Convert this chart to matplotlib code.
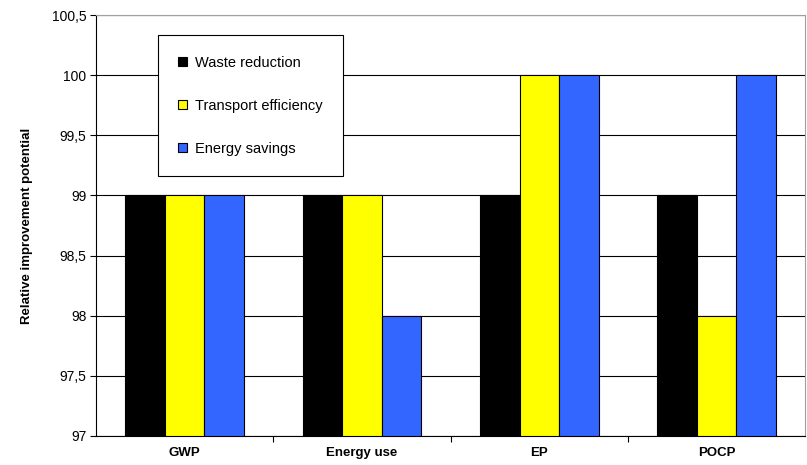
import numpy as np
from matplotlib import pyplot as plt

plt.rcParams['font.family'] = ['Liberation Sans', 'DejaVu Sans']

categories = ['GWP', 'Energy use', 'EP', 'POCP']
waste_reduction = [99, 99, 99, 99]
transport_efficiency = [99, 99, 100, 98]
energy_savings = [99, 98, 100, 100]
yticks = [97, 97.5, 98, 98.5, 99, 99.5, 100, 100.5]
ytick_labels = ['97', '97,5', '98', '98,5', '99', '99,5', '100', '100,5']

fig = plt.figure(figsize=(8.07, 4.65), dpi=100)
ax = fig.add_axes([0.119, 0.0624, 0.879, 0.9053])

x = np.arange(len(categories))
w = 0.223
ax.set_axisbelow(True)
ax.bar(x - w, waste_reduction, w, color='#000000', edgecolor='black', linewidth=0.8, label='Waste reduction')
ax.bar(x, transport_efficiency, w, color='#FFFF00', edgecolor='black', linewidth=0.8, label='Transport efficiency')
ax.bar(x + w, energy_savings, w, color='#3366FF', edgecolor='black', linewidth=0.8, label='Energy savings')

ax.set_ylim(97, 100.5)
ax.set_xlim(-0.5, 3.5)
ax.set_yticks(yticks)
ax.set_yticklabels(ytick_labels, fontsize=10)
ax.yaxis.grid(True, color='black', linewidth=0.8)

# x ticks sit between the categories, labels at the centres
ax.set_xticks([0.5, 1.5, 2.5])
ax.set_xticklabels([])
ax.set_xticks(x, minor=True)
ax.set_xticklabels(categories, minor=True, fontsize=9.5, fontweight='bold')
ax.tick_params(axis='x', which='minor', length=0, pad=8)
ax.tick_params(axis='x', which='major', length=4, direction='out')
ax.tick_params(axis='y', length=4, direction='out', pad=3)

ax.set_ylabel('Relative improvement potential', fontsize=9.5, fontweight='bold')
ax.yaxis.set_label_coords(-0.089, 0.5)

ax.spines['top'].set_color('#a0a0a0')
ax.spines['right'].set_color('#a0a0a0')
ax.spines['left'].set_color('black')
ax.spines['bottom'].set_color('black')

leg = ax.legend(loc='upper left', bbox_to_anchor=(0.087, 0.952), borderaxespad=0,
                fontsize=10.5, fancybox=False, framealpha=1, edgecolor='black',
                labelspacing=2.0, handlelength=0.6, handleheight=0.6,
                handletextpad=0.55, borderpad=1.4)
leg.get_frame().set_linewidth(0.8)

plt.savefig('out.png', dpi=100)
